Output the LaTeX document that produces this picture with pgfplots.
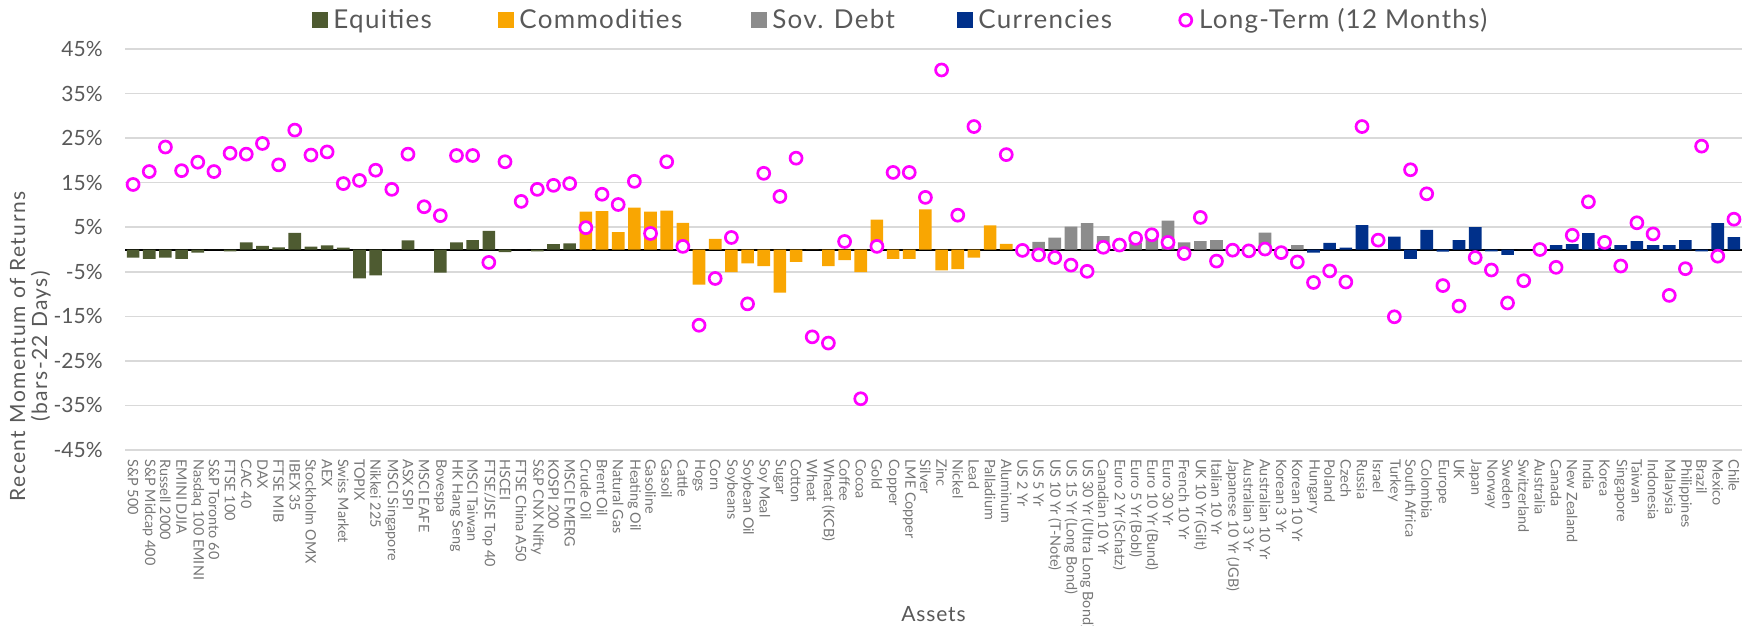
\documentclass[border=0pt]{standalone}
\usepackage{fontspec}
\setmainfont{Lato}
\newfontfamily\legfont[LetterSpace=5]{Lato}
\newfontfamily\labfont[LetterSpace=4]{Lato}
\newfontfamily\ylabfont[LetterSpace=7]{Lato}
\usepackage{pgfplots}
\pgfplotsset{compat=1.18}
\definecolor{eqc}{HTML}{4E5B31}
\definecolor{coc}{HTML}{F9A602}
\definecolor{sdc}{HTML}{8C8C8C}
\definecolor{cuc}{HTML}{00308A}
\definecolor{ltc}{HTML}{FF00FF}
\definecolor{txt}{HTML}{595959}
\definecolor{xtc}{HTML}{767676}
\definecolor{grd}{HTML}{D9D9D9}
\begin{document}
\begin{tikzpicture}
\useasboundingbox (0,0) rectangle (875pt,313pt);
\begin{axis}[
  at={(62.5pt,88pt)}, anchor=south west,
  width=808.5pt, height=200.5pt, scale only axis,
  xmin=-0.5, xmax=99.5, ymin=-45, ymax=45,
  axis line style={draw=none},
  major tick length=0pt,
  ytick={-45,-35,...,45},
  yticklabels={-45\%,-35\%,-25\%,-15\%,-5\%,5\%,15\%,25\%,35\%,45\%},
  ymajorgrids, grid style={grd, line width=0.8pt},
  extra y ticks={0}, extra y tick labels={},
  extra y tick style={ymajorgrids=true, grid style={black, line width=1pt}},
  xtick={0,...,99},
  xticklabels={{S\&P 500},{S\&P Midcap 400},{Russell 2000},{EMINI DJIA},{Nasdaq 100 EMINI},{S\&P Toronto 60},{FTSE 100},{CAC 40},{DAX},{FTSE MIB},{IBEX 35},{Stockholm OMX},{AEX},{Swiss Market},{TOPIX},{Nikkei 225},{MSCI Singapore},{ASX SPI},{MSCI EAFE},{Bovespa},{HK Hang Seng},{MSCI Taiwan},{FTSE/JSE Top 40},{HSCEI},{FTSE China A50},{S\&P CNX Nifty},{KOSPI 200},{MSCI EMERG},
  {Crude Oil},{Brent Oil},{Natural Gas},{Heating Oil},{Gasoline},{Gasoil},{Cattle},{Hogs},{Corn},{Soybeans},{Soybean Oil},{Soy Meal},{Sugar},{Cotton},{Wheat},{Wheat (KCB)},{Coffee},{Cocoa},{Gold},{Copper},{LME Copper},{Silver},{Zinc},{Nickel},{Lead},{Palladium},{Aluminum},
  {US 2 Yr},{US 5 Yr},{US 10 Yr (T-Note)},{US 15 Yr (Long Bond)},{US 30 Yr (Ultra Long Bond)},{Canadian 10 Yr},{Euro 2 Yr (Schatz)},{Euro 5 Yr (Bobl)},{Euro 10 Yr (Bund)},{Euro 30 Yr},{French 10 Yr},{UK 10 Yr (Gilt)},{Italian 10 Yr},{Japanese 10 Yr (JGB)},{Australian 3 Yr},{Australian 10 Yr},{Korean 3 Yr},{Korean 10 Yr},
  {Hungary},{Poland},{Czech},{Russia},{Israel},{Turkey},{South Africa},{Colombia},{Europe},{UK},{Japan},{Norway},{Sweden},{Switzerland},{Australia},{Canada},{New Zealand},{India},{Korea},{Singapore},{Taiwan},{Indonesia},{Malaysia},{Philippines},{Brazil},{Mexico},{Chile}},
  xticklabel style={rotate=-90, anchor=west, font=\fontsize{7.2}{8}\selectfont, text=xtc, inner xsep=4.5pt, inner ysep=0pt},
  yticklabel style={font=\fontsize{10.5}{12}\selectfont, text=txt, inner sep=0pt, xshift=-11pt},
  xlabel={Assets},
  xlabel style={at={(axis description cs:0.5,-0.41)}, anchor=center, font=\labfont\fontsize{10.5}{12}\selectfont, text=txt},
  ylabel={Recent Momentum of Returns\\(bars-22 Days)},
  ylabel style={at={(axis description cs:-0.0585,0.258)}, anchor=center, align=center, font=\ylabfont\fontsize{10.5}{11}\selectfont, text=txt},
  legend columns=5,
  legend style={at={(axis description cs:0.11565,1.072)}, anchor=west, draw=none, fill=none,
    inner sep=0pt, font=\legfont\fontsize{13}{15}\selectfont, text=txt,
    nodes={inner sep=0pt}, column sep=0pt},
]
\addplot[ybar, bar width=0.78, bar shift=0pt, fill=eqc, draw=none,
  legend image code/.code={\fill[eqc] (0pt,-4pt) rectangle (8pt,4pt);}]
  coordinates {(0,-1.8)(1,-2.1)(2,-1.8)(3,-2.1)(4,-0.7)(5,0)(6,-0.4)(7,1.6)(8,0.8)(9,0.5)(10,3.75)(11,0.65)(12,0.9)(13,0.45)(14,-6.5)(15,-5.8)(16,0)(17,2.05)(18,0)(19,-5.2)(20,1.6)(21,2.1)(22,4.2)(23,-0.6)(24,0)(25,-0.4)(26,1.2)(27,1.4)};
\addlegendentry{\makebox[85pt][l]{\hspace{2.5pt}Equities}}
\addplot[ybar, bar width=0.78, bar shift=0pt, fill=coc, draw=none,
  legend image code/.code={\fill[coc] (0pt,-4pt) rectangle (8pt,4pt);}]
  coordinates {(28,8.5)(29,8.6)(30,3.9)(31,9.4)(32,8.5)(33,8.7)(34,6.0)(35,-7.9)(36,2.4)(37,-5.1)(38,-3.1)(39,-3.75)(40,-9.7)(41,-2.8)(42,0)(43,-3.75)(44,-2.4)(45,-5.1)(46,6.7)(47,-2.1)(48,-2.1)(49,9.0)(50,-4.7)(51,-4.4)(52,-1.8)(53,5.4)(54,1.25)};
\addlegendentry{\makebox[118.5pt][l]{\hspace{2.5pt}Commodities}}
\addplot[ybar, bar width=0.78, bar shift=0pt, fill=sdc, draw=none,
  legend image code/.code={\fill[sdc] (0pt,-4pt) rectangle (8pt,4pt);}]
  coordinates {(55,0)(56,1.7)(57,2.65)(58,5.15)(59,5.9)(60,3.0)(61,0.2)(62,1.5)(63,3.0)(64,6.5)(65,1.6)(66,1.9)(67,2.1)(68,0)(69,0)(70,3.8)(71,0)(72,1.0)};
\addlegendentry{\makebox[95pt][l]{\hspace{2.5pt}Sov. Debt}}
\addplot[ybar, bar width=0.78, bar shift=0pt, fill=cuc, draw=none,
  legend image code/.code={\fill[cuc] (0pt,-4pt) rectangle (8pt,4pt);}]
  coordinates {(73,-0.7)(74,1.5)(75,0.45)(76,5.5)(77,0)(78,2.9)(79,-2.1)(80,4.4)(81,-0.5)(82,2.1)(83,5.0)(84,-0.4)(85,-1.2)(86,0)(87,0)(88,1.0)(89,1.2)(90,3.7)(91,0.5)(92,1.0)(93,1.9)(94,1.0)(95,1.0)(96,2.1)(97,-0.4)(98,5.9)(99,2.8)};
\addlegendentry{\makebox[102.5pt][l]{\hspace{2.5pt}Currencies}}
\addplot[only marks, mark=*, mark size=3pt, mark options={draw=ltc, fill=white, line width=1.35pt},
  legend image code/.code={\draw[ltc, fill=white, line width=1.35pt] (4pt,0pt) circle (3pt);}]
  coordinates {(0,14.6)(1,17.5)(2,23.0)(3,17.7)(4,19.6)(5,17.5)(6,21.6)(7,21.4)(8,23.8)(9,19.0)(10,26.8)(11,21.2)(12,21.9)(13,14.8)(14,15.5)(15,17.8)(16,13.5)(17,21.4)(18,9.6)(19,7.6)(20,21.1)(21,21.1)(22,-2.9)(23,19.7)(24,10.8)(25,13.5)(26,14.4)(27,14.8)
  (28,4.9)(29,12.4)(30,10.1)(31,15.3)(32,3.6)(33,19.7)(34,0.7)(35,-17.0)(36,-6.5)(37,2.7)(38,-12.2)(39,17.1)(40,11.9)(41,20.5)(42,-19.6)(43,-21.0)(44,1.8)(45,-33.5)(46,0.7)(47,17.3)(48,17.3)(49,11.7)(50,40.3)(51,7.7)(52,27.6)(54,21.3)
  (55,-0.2)(56,-1.2)(57,-1.8)(58,-3.5)(59,-4.9)(60,0.5)(61,1.0)(62,2.5)(63,3.3)(64,1.6)(65,-0.9)(66,7.2)(67,-2.6)(68,-0.15)(69,-0.3)(70,0.1)(71,-0.7)(72,-2.8)
  (73,-7.4)(74,-4.8)(75,-7.3)(76,27.6)(77,2.1)(78,-15.1)(79,17.9)(80,12.5)(81,-8.1)(82,-12.7)(83,-1.8)(84,-4.6)(85,-12.0)(86,-7.0)(87,0.0)(88,-4.0)(89,3.2)(90,10.7)(91,1.6)(92,-3.7)(93,6.0)(94,3.5)(95,-10.3)(96,-4.3)(97,23.2)(98,-1.5)(99,6.8)};
\addlegendentry{\hspace{3pt}Long-Term (12 Months)}
\end{axis}
\end{tikzpicture}
\end{document}
